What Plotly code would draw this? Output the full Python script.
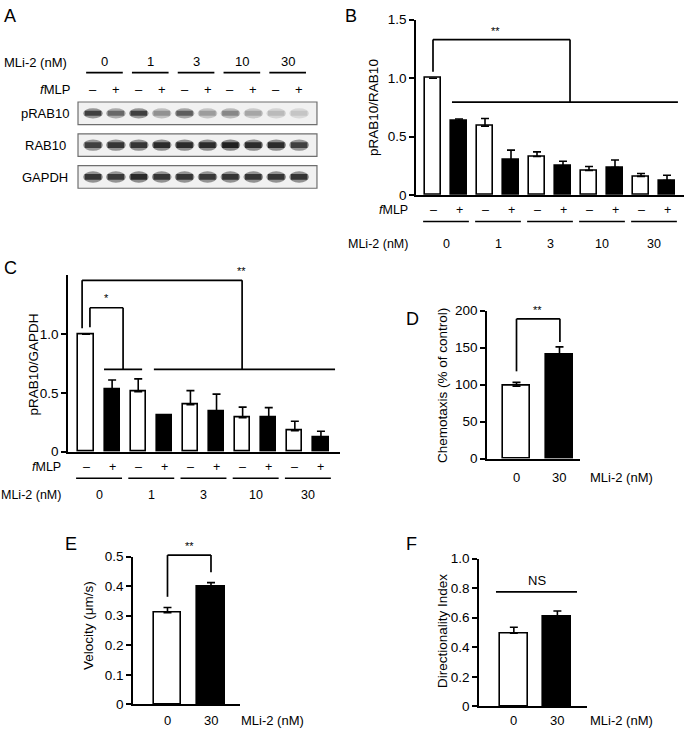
import plotly.graph_objects as go

W, H = 685, 736
FONT = 'Liberation Sans, Arial, Helvetica, sans-serif'

# ---------------- data ----------------
doses = ['0', '1', '3', '10', '30']
fmlp_signs = ['–', '+'] * 5
fills = ['white', 'black'] * 5

# B: pRAB10/RAB10
b_mean = [1.0, 0.636, 0.59, 0.30, 0.33, 0.25, 0.21, 0.235, 0.16, 0.125]
b_err = [0.0, 0.015, 0.065, 0.085, 0.04, 0.04, 0.035, 0.065, 0.025, 0.045]

# C: pRAB10/GAPDH
c_mean = [1.0, 0.53, 0.51, 0.305, 0.40, 0.34, 0.29, 0.29, 0.18, 0.125]
c_err = [0.0, 0.08, 0.11, 0.01, 0.12, 0.15, 0.09, 0.085, 0.08, 0.05]

# D, E, F: 0 vs 30 nM MLi-2
two_doses = ['0', '30']
two_fills = ['white', 'black']
d_mean = [98, 140]
d_err = [5, 11]
e_mean = [0.31, 0.40]
e_err = [0.018, 0.012]
f_mean = [0.495, 0.605]
f_err = [0.04, 0.04]

# A: western blot band darkness (0 = none, 1 = darkest), 10 lanes
blot_rows = ['pRAB10', 'RAB10', 'GAPDH']
prab10_band = [0.85, 0.65, 0.85, 0.45, 0.7, 0.4, 0.5, 0.35, 0.25, 0.2]
rab10_band = [0.85, 0.9, 0.9, 0.95, 0.95, 0.95, 1.0, 0.95, 0.95, 0.85]
gapdh_band = [0.9, 0.88, 0.95, 0.9, 0.9, 0.88, 0.9, 0.9, 0.9, 0.9]

FS = 13  # base text size


def xdom(a, b):
    return [a / W, b / W]


def ydom(top, bot):
    return [1 - bot / H, 1 - top / H]


def pp(y):
    return 1 - y / H


# panel boxes in pixels: (left, right, top, bottom), x range, y range
panels = {
    1: dict(box=(416, 684, 13, 192), xr=[-0.654, 9.654], yr=[0, 1.5],
            tv=[0, 0.5, 1.0, 1.5], tt=['0', '0.5', '1.0', '1.5']),
    2: dict(box=(68, 340, 274, 454), xr=[-0.69, 9.73], yr=[0, 1.5],
            tv=[0, 0.5, 1.0], tt=['0', '0.5', '1.0']),
    3: dict(box=(487, 580, 310, 461), xr=[-0.686, 1.477], yr=[0, 200],
            tv=[0, 50, 100, 150, 200], tt=['0', '50', '100', '150', '200']),
    4: dict(box=(133, 240, 561, 712), xr=[-0.793, 1.667], yr=[0, 0.5],
            tv=[0, 0.1, 0.2, 0.3, 0.4, 0.5], tt=['0', '0.1', '0.2', '0.3', '0.4', '0.5']),
    5: dict(box=(479, 587, 563, 714), xr=[-0.80, 1.68], yr=[0, 1.0],
            tv=[0, 0.2, 0.4, 0.6, 0.8, 1.0], tt=['0', '0.2', '0.4', '0.6', '0.8', '1.0']),
}


def ax(n, kind):
    return kind + ('' if n == 1 else str(n))


def to_paper(n, v):
    p = panels[n]
    l, r, t, b = p['box']
    y0, y1 = p['yr']
    pix = b - (v - y0) / (y1 - y0) * (b - t)
    return 1 - pix / H


fig = go.Figure()
layout = dict(width=W, height=H, margin=dict(l=0, r=0, t=0, b=0),
              plot_bgcolor='white', paper_bgcolor='white', showlegend=False,
              font=dict(family=FONT, size=FS, color='black'), bargap=0)

for n, p in panels.items():
    l, r, t, b = p['box']
    layout['xaxis' + ('' if n == 1 else str(n))] = dict(
        domain=xdom(l, r), range=p['xr'], anchor=ax(n, 'y'), showline=True,
        linewidth=1.7, linecolor='black', ticks='', showticklabels=False,
        showgrid=False, zeroline=False, fixedrange=True)
    layout['yaxis' + ('' if n == 1 else str(n))] = dict(
        domain=ydom(t, b), range=p['yr'], anchor=ax(n, 'x'), showline=True,
        linewidth=1.7, linecolor='black', ticks='outside', ticklen=5,
        tickwidth=1.7, tickcolor='black', tickvals=p['tv'], ticktext=p['tt'],
        showgrid=False, zeroline=False, tickfont=dict(size=FS + 0.5), fixedrange=True)

# blot axes (hidden)
layout['xaxis6'] = dict(domain=xdom(74, 321), range=[-0.83, 9.956], anchor='y6',
                        visible=False, fixedrange=True)
layout['yaxis6'] = dict(domain=ydom(93, 189), range=[2.477, -0.477], anchor='x6',
                        visible=False, fixedrange=True)


def add_bars(n, means, errs, colors, width):
    fig.add_trace(go.Bar(
        x=list(range(len(means))), y=means, width=width,
        marker=dict(color=colors, line=dict(color='black', width=1.6)),
        error_y=dict(type='data', symmetric=False, array=errs,
                     arrayminus=[0] * len(errs), color='black', thickness=1.6, width=4),
        xaxis=ax(n, 'x'), yaxis=ax(n, 'y'), hoverinfo='skip'))


add_bars(1, b_mean, b_err, fills, 0.58)
add_bars(2, c_mean, c_err, fills, 0.58)
add_bars(3, d_mean, d_err, two_fills, 0.63)
add_bars(4, e_mean, e_err, two_fills, 0.63)
add_bars(5, f_mean, f_err, two_fills, 0.64)

shapes = []
annotations = []


def text(x, y, s, xref='paper', size=FS, xanchor='center', yanchor='middle', angle=0):
    annotations.append(dict(x=x, y=y, xref=xref, yref='paper', text=s, showarrow=False,
                            xanchor=xanchor, yanchor=yanchor, textangle=angle,
                            font=dict(size=size, family=FONT, color='black')))


def line_path(n, pts, width=1.7):
    # pts: list of (x data, y data) on panel n
    for (xa, ya), (xb, yb) in zip(pts[:-1], pts[1:]):
        shapes.append(dict(type='line', xref=ax(n, 'x'), yref='paper',
                           x0=xa, x1=xb, y0=to_paper(n, ya), y1=to_paper(n, yb),
                           line=dict(color='black', width=width)))


def under_labels(n, ysign, yline, ydose, lab_x_end, size):
    xr = ax(n, 'x')
    for i, s in enumerate(fmlp_signs):
        text(i, pp(ysign), s, xref=xr, size=size)
    for g, d in enumerate(doses):
        shapes.append(dict(type='line', xref=xr, yref='paper', x0=2 * g - 0.38,
                           x1=2 * g + 1.38, y0=pp(yline), y1=pp(yline),
                           line=dict(color='black', width=1.5)))
        text(2 * g + 0.5, pp(ydose), d, xref=xr, size=size)
    text(lab_x_end / W, pp(ysign), '<i>f</i>MLP', xanchor='right', size=size)
    text(lab_x_end / W, pp(ydose), 'MLi-2 (nM)', xanchor='right', size=size)


# ---------------- panel A: blot ----------------
text(2 / W, pp(9), 'A', size=18, xanchor='left')
text(2 / W, pp(57), 'MLi-2 (nM)', xanchor='left')
text(72 / W, pp(84), '<i>f</i>MLP', xanchor='right')
for g, d in enumerate(doses):
    text(2 * g + 0.5, pp(56), d, xref='x6')
    shapes.append(dict(type='line', xref='x6', yref='paper', x0=2 * g - 0.3, x1=2 * g + 1.3,
                       y0=pp(67), y1=pp(67), line=dict(color='black', width=1.7)))
for i, s in enumerate(fmlp_signs):
    text(i, pp(84), s, xref='x6')

for r, (name, bands) in enumerate(zip(blot_rows, [prab10_band, rab10_band, gapdh_band])):
    shapes.append(dict(type='rect', xref='x6', yref='y6', x0=-0.655, x1=9.78,
                       y0=r - 0.354, y1=r + 0.354, fillcolor='#f1f1f1',
                       line=dict(color='#6e6e6e', width=1.2), layer='below'))
    text(45 / W, 1 - (108.5 + 33 * r) / H, name)
    for i, d in enumerate(bands):
        lvl = int(238 - d * 205)
        halo = int(lvl + (238 - lvl) * 0.5)
        hh = 0.16 if r == 0 else 0.18
        shapes.append(dict(type='circle', xref='x6', yref='y6', x0=i - 0.43, x1=i + 0.43,
                           y0=r - hh, y1=r + hh, fillcolor=f'rgb({halo},{halo},{halo})',
                           line=dict(width=0), layer='below'))
        shapes.append(dict(type='rect', xref='x6', yref='y6', x0=i - 0.36, x1=i + 0.36,
                           y0=r - hh * 0.5, y1=r + hh * 0.5, fillcolor=f'rgb({lvl},{lvl},{lvl})',
                           line=dict(width=0), layer='below'))

# ---------------- panel B ----------------
text(343 / W, pp(9), 'B', size=18, xanchor='left')
text(374 / W, pp(102), 'pRAB10/RAB10', size=13.5, angle=-90)
line_path(1, [(0, 1.055), (0, 1.33), (5.27, 1.33), (5.27, 0.795)])
line_path(1, [(0.73, 0.795), (9.42, 0.795)])
text(2.4, pp(24), '**', xref='x', size=11)
under_labels(1, 207, 219, 242, 410, 12.5)

# ---------------- panel C ----------------
text(2 / W, pp(266), 'C', size=18, xanchor='left')
text(34 / W, pp(365), 'pRAB10/GAPDH', size=13.5, angle=-90)
line_path(2, [(-0.15, 1.05), (-0.15, 1.458), (5.98, 1.458), (5.98, 0.70)])
line_path(2, [(2.6, 0.70), (9.54, 0.70)])
line_path(2, [(0.15, 1.06), (0.15, 1.225), (1.42, 1.225), (1.42, 0.70)])
line_path(2, [(0.69, 0.70), (2.15, 0.70)])
text(0.8, pp(297), '*', xref='x2', size=11)
text(5.94, pp(270), '**', xref='x2', size=11)
under_labels(2, 470, 481, 498, 63, 12.5)

# ---------------- panel D ----------------
text(404 / W, pp(318), 'D', size=18, xanchor='left')
text(442 / W, pp(387), 'Chemotaxis (% of control)', size=13.5, angle=-90)
line_path(3, [(0, 118), (0, 189), (1.01, 189), (1.01, 157.6)])
text(0.48, pp(309), '**', xref='x3', size=11)
for i, d in enumerate(two_doses):
    text(i, pp(480), d, xref='x3')
text(588 / W, pp(480), 'MLi-2 (nM)', xanchor='left')

# ---------------- panel E ----------------
text(63 / W, pp(548), 'E', size=18, xanchor='left')
text(88 / W, pp(632), 'Velocity (μm/s)', size=13.5, angle=-90)
line_path(4, [(0, 0.364), (0, 0.505), (1.0, 0.505), (1.0, 0.447)])
text(0.5, pp(550), '**', xref='x4', size=11)
for i, d in enumerate(two_doses):
    text(i, pp(728), d, xref='x4')
text(239 / W, pp(728), 'MLi-2 (nM)', xanchor='left')

# ---------------- panel F ----------------
text(404 / W, pp(548), 'F', size=18, xanchor='left')
text(442 / W, pp(637), 'Directionality Index', size=13.5, angle=-90)
line_path(5, [(-0.41, 0.775), (1.45, 0.775)])
text(0.53, pp(585), 'NS', xref='x5')
for i, d in enumerate(two_doses):
    text(i, pp(728), d, xref='x5')
text(588 / W, pp(728), 'MLi-2 (nM)', xanchor='left')

layout['shapes'] = shapes
layout['annotations'] = annotations
fig.update_layout(**layout)
# drop the browser's default 8px body margin so the figure sits at the page origin
fig.write_html('out.html', config={'displayModeBar': False},
               post_script="document.body.style.margin = '0px';")
